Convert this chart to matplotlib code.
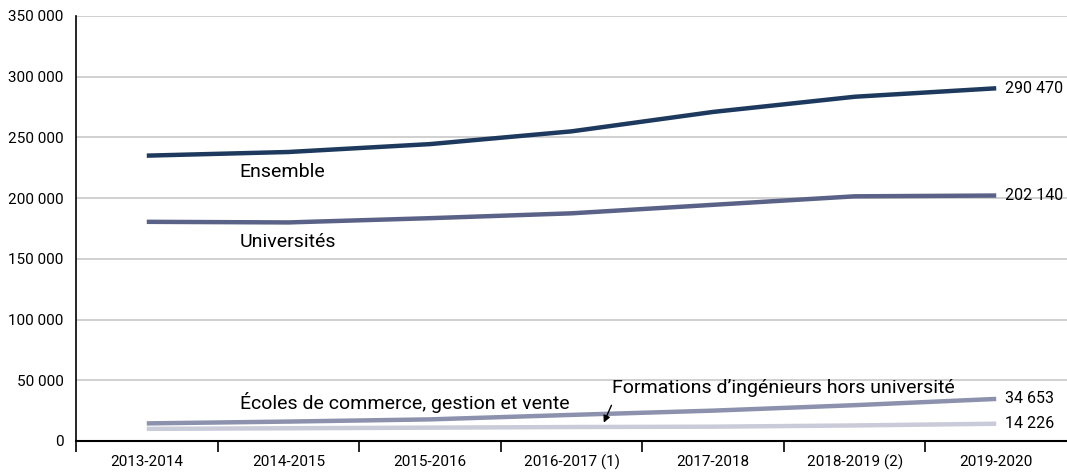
import matplotlib
matplotlib.use("Agg")
import matplotlib.pyplot as plt
from matplotlib.ticker import FixedLocator, FuncFormatter

plt.rcParams['font.family'] = ['Roboto', 'DejaVu Sans']

annees = ["2013-2014", "2014-2015", "2015-2016", "2016-2017 (1)",
          "2017-2018", "2018-2019 (2)", "2019-2020"]

ensemble = [235000, 238000, 244500, 255000, 271000, 283500, 290470]
universites = [180500, 180000, 183500, 187500, 194500, 201500, 202140]
ecoles_commerce = [14500, 16000, 17800, 21500, 25000, 29500, 34653]
ingenieurs = [10000, 10500, 11000, 11500, 11800, 12800, 14226]

yticks = [0, 50000, 100000, 150000, 200000, 250000, 300000, 350000]


def fmt_fr(v):
    return f"{int(round(v)):,}".replace(",", " ")


fig = plt.figure(figsize=(10.67, 4.74), dpi=100)
ax = fig.add_axes([76 / 1067, 33 / 474, 991 / 1067, 425 / 474])

x = range(len(annees))
series = [
    (ensemble, "#1d3a5e"),
    (universites, "#5a6387"),
    (ecoles_commerce, "#8c91ad"),
    (ingenieurs, "#cacbd9"),
]
for vals, col in series:
    ax.plot(x, vals, color=col, lw=3.2, solid_capstyle="butt", zorder=3)
    ax.annotate(fmt_fr(vals[-1]), xy=(len(annees) - 1, vals[-1]),
                xytext=(6, 0), textcoords="offset points",
                va="center", ha="left", fontsize=11.5)

ax.set_xlim(-0.5, len(annees) - 0.5)
ax.set_ylim(0, 350000)
ax.yaxis.set_major_locator(FixedLocator(yticks))
ax.yaxis.set_major_formatter(FuncFormatter(lambda v, p: fmt_fr(v)))
ax.grid(axis="y", color="#c8c8c8", lw=1.2, zorder=0)
ax.tick_params(axis="y", length=0, pad=9, labelsize=11)

ax.set_xticks(list(x))
ax.set_xticklabels(annees, fontsize=11)
ax.tick_params(axis="x", which="major", length=0, pad=10)
ax.set_xticks([i - 0.5 for i in range(len(annees))], minor=True)
ax.tick_params(axis="x", which="minor", length=8, width=1.2, direction="out")

for s in ["top", "right"]:
    ax.spines[s].set_visible(False)
ax.spines["left"].set_linewidth(1.2)
ax.spines["bottom"].set_linewidth(1.5)

ax.text(0.655, 221500, "Ensemble", fontsize=14, va="center", ha="left")
ax.text(0.655, 164000, "Universités", fontsize=14, va="center", ha="left")
ax.text(0.655, 31500, "Écoles de commerce, gestion et vente",
        fontsize=14, va="center", ha="left")
ax.text(4.50, 44000, "Formations d\u2019ingénieurs hors université",
        fontsize=14, va="center", ha="center")
ax.annotate("", xy=(3.22, ingenieurs[3] + 1500), xytext=(3.29, 31500),
            arrowprops=dict(arrowstyle="-|>", color="black", lw=1,
                            mutation_scale=10))

fig.savefig("out.png", dpi=100)
